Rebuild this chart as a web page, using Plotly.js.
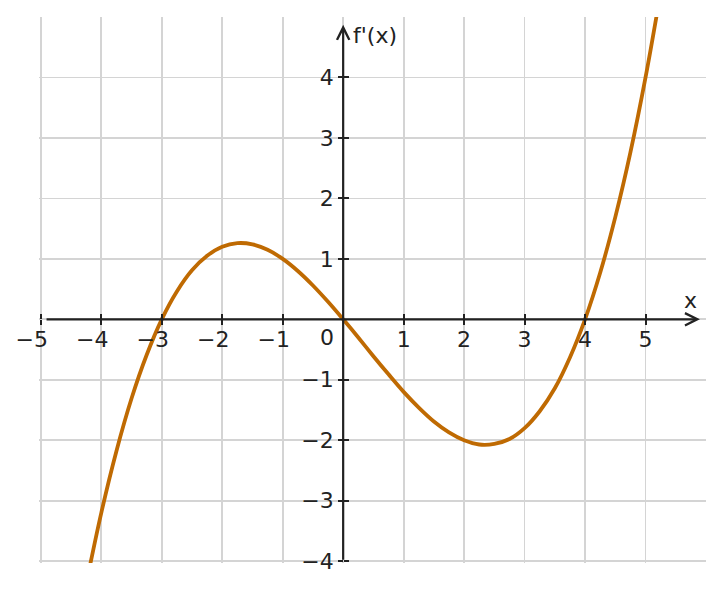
<!DOCTYPE html>
<html>
<head>
<meta charset="utf-8">
<script src="https://cdn.plot.ly/plotly-3.0.1.min.js"></script>
<style>html,body{margin:0;padding:0;background:#fff;}#chart{width:725px;height:590px;}</style>
</head>
<body>
<div id="chart"></div>
<script>
// Curve f'(x), values
const xValues = [-4.25, -4, -3.75, -3.5, -3.25, -3, -2.75, -2.5, -2.25, -2, -1.75, -1.5, -1.25, -1, -0.75, -0.5, -0.25, 0,
  0.25, 0.5, 0.75, 1, 1.25, 1.5, 1.75, 2, 2.25, 2.5, 2.75, 3, 3.25, 3.5, 3.75, 4, 4.25, 4.5, 4.75, 5, 5.25];
const yValues = [-4.38, -3.2, -2.18, -1.31, -0.59, 0, 0.46, 0.81, 1.05, 1.2, 1.26, 1.24, 1.15, 1.0, 0.80, 0.56, 0.29, 0,
  -0.30, -0.61, -0.91, -1.2, -1.46, -1.69, -1.87, -2.0, -2.07, -2.06, -1.98, -1.8, -1.52, -1.14, -0.63, 0, 0.77, 1.69, 2.76, 4.0, 5.41];

const xTicks = [-5, -4, -3, -2, -1, 1, 2, 3, 4, 5];
const xNegTicks = [-5, -4, -3, -2, -1];
const xNegText = ['−5', '−4', '−3', '−2', '−1'];
const xPosTicks = [1, 2, 3, 4, 5];
const xPosText = ['1', '2', '3', '4', '5'];
const xGrid = [-5, -4, -3, -2, -1, 0, 1, 2, 3, 4, 5];
const yTicks = [-4, -3, -2, -1, 1, 2, 3, 4];
const yTickText = ['−4', '−3', '−2', '−1', '1', '2', '3', '4'];
const yGrid = [-4, -3, -2, -1, 0, 1, 2, 3, 4];
const xRange = [-5.03, 6];
const yRange = [-4.03, 5];
const xAxisLabel = 'x';
const yAxisLabel = "f'(x)";
const originLabel = '0';

const dark = '#222222';
const font = {family: 'DejaVu Sans', size: 22, color: dark};
const xPos = (0 - yRange[0]) / (yRange[1] - yRange[0]);
const yPos = (0 - xRange[0]) / (xRange[1] - xRange[0]);

const traces = [
  {x: xValues, y: yValues, type: 'scatter', mode: 'lines', line: {color: '#bf6a02', width: 3.8, shape: 'spline'}, hoverinfo: 'skip', showlegend: false},
  {x: [], y: [], xaxis: 'x2', yaxis: 'y', type: 'scatter', showlegend: false},
  {x: [], y: [], xaxis: 'x4', yaxis: 'y', type: 'scatter', showlegend: false},
  {x: [], y: [], xaxis: 'x', yaxis: 'y2', type: 'scatter', showlegend: false},
  {x: [], y: [], xaxis: 'x3', yaxis: 'y3', type: 'scatter', showlegend: false}
];

const common = {range: xRange, showgrid: false, zeroline: false, showline: false, fixedrange: true, overlaying: 'x3',
  anchor: 'free', position: xPos, side: 'bottom', tickwidth: 2, ticklen: 5, tickfont: font};

const layout = {
  width: 725, height: 590,
  margin: {l: 39, r: 19, t: 17, b: 27, pad: 0},
  paper_bgcolor: '#fff', plot_bgcolor: '#fff',
  font: font,
  showlegend: false,
  // grid axes (no labels)
  xaxis3: {range: xRange, tickvals: xGrid, showgrid: true, gridcolor: '#d4d4d4', gridwidth: 1.8,
    showticklabels: false, ticks: '', zeroline: false, showline: false, fixedrange: true},
  yaxis3: {range: yRange, tickvals: yGrid, showgrid: true, gridcolor: '#d4d4d4', gridwidth: 1.8,
    showticklabels: false, ticks: '', zeroline: false, showline: false, fixedrange: true, anchor: 'x3'},
  // x axis through origin: negative labels (digit centred on tick), positive labels, inner tick halves
  xaxis: Object.assign({}, common, {tickvals: xNegTicks, ticktext: xNegText, ticks: 'outside', tickcolor: dark,
    ticklabelshift: -9, ticklabelstandoff: -5}),
  xaxis4: Object.assign({}, common, {tickvals: xPosTicks, ticktext: xPosText, ticks: 'outside', tickcolor: dark,
    ticklabelstandoff: -5}),
  xaxis2: Object.assign({}, common, {tickvals: xTicks, ticks: 'inside', tickcolor: dark, showticklabels: false}),
  // y axis through origin
  yaxis: {range: yRange, tickvals: yTicks, ticktext: yTickText, showgrid: false, zeroline: false, showline: false,
    anchor: 'free', position: yPos, ticks: 'outside', ticklen: 5, tickwidth: 2, tickcolor: dark,
    tickfont: font, fixedrange: true, overlaying: 'y3'},
  yaxis2: {range: yRange, tickvals: yTicks, showgrid: false, zeroline: false, showline: false,
    anchor: 'free', position: yPos, side: 'left', ticks: 'inside', ticklen: 5, tickwidth: 2, tickcolor: dark,
    showticklabels: false, overlaying: 'y3', fixedrange: true},
  annotations: [
    // x axis arrow
    {x: 5.9, y: 0, ax: -4.93, ay: 0, xref: 'x', yref: 'y', axref: 'x', ayref: 'y', text: '', showarrow: true,
      arrowhead: 5, arrowsize: 1.1, arrowwidth: 2.2, arrowcolor: dark, standoff: 0, startstandoff: 0},
    // y axis arrow
    {x: 0, y: 4.87, ax: 0, ay: -4, xref: 'x', yref: 'y', axref: 'x', ayref: 'y', text: '', showarrow: true,
      arrowhead: 5, arrowsize: 1.1, arrowwidth: 2.2, arrowcolor: dark, standoff: 0, startstandoff: 0},
    {x: -0.27, y: 0, xref: 'x', yref: 'y', text: originLabel, showarrow: false, xanchor: 'center', yanchor: 'top', yshift: -4, font: font},
    {x: 5.74, y: 0.31, xref: 'x', yref: 'y', text: xAxisLabel, showarrow: false, font: font},
    {x: 0.13, y: 4.69, xref: 'x', yref: 'y', text: yAxisLabel, showarrow: false, xanchor: 'left', font: font}
  ]
};

Plotly.newPlot('chart', traces, layout, {staticPlot: true, displayModeBar: false});
</script>
</body>
</html>
